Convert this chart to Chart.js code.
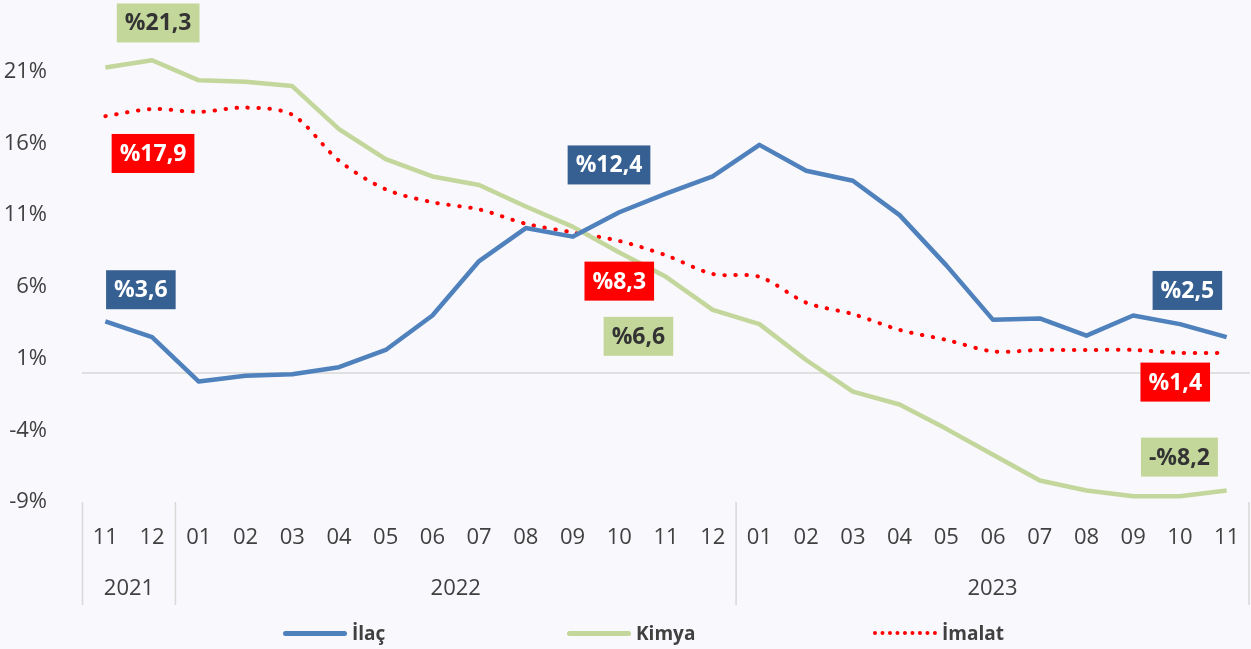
<!DOCTYPE html>
<html lang="tr">
<head>
<meta charset="utf-8">
<title>İlaç, Kimya ve İmalat</title>
<script src="https://cdn.jsdelivr.net/npm/chart.js@4.4.1/dist/chart.umd.min.js"></script>
<style>
    html, body { margin: 0; padding: 0; background: #f9f8fc; }
    #kapsayici { position: relative; width: 1251px; height: 649px; }
    #grafik { display: block; }
    .lejant { position: absolute; top: 620px; left: 0; width: 1251px; height: 26px;
              font: bold 19px "Open Sans", sans-serif; color: #404040; }
    .oge { position: absolute; top: 0; height: 26px; display: flex; align-items: center; }
    .ornek { width: 64px; height: 0; margin-right: 5px; }
</style>
</head>
<body>
<div id="kapsayici">
    <canvas id="grafik" width="1251" height="649"></canvas>
    <div class="lejant">
        <div class="oge" style="left:283px"><span class="ornek" style="border-top:5px solid #4f81bd;border-radius:3px"></span>İlaç</div>
        <div class="oge" style="left:567px"><span class="ornek" style="border-top:5px solid #c3d69b;border-radius:3px"></span>Kimya</div>
        <div class="oge" style="left:873px"><span class="ornek" style="border-top:4px dotted #ff0000"></span>İmalat</div>
    </div>
</div>
<script>
// Veriler (yıllık değişim, %)
const aylar = ['11', '12', '01', '02', '03', '04', '05', '06', '07', '08', '09', '10', '11', '12',
               '01', '02', '03', '04', '05', '06', '07', '08', '09', '10', '11'];
const yillar = ['2021', '2022', '2023'];
const yilBaslangic = [0, 2, 14]; // her yılın ilk ayının sırası

const ilac = [3.6, 2.5, -0.6, -0.2, -0.1, 0.4, 1.6, 4.0, 7.8, 10.1, 9.5, 11.2, 12.5, 13.7,
              15.9, 14.1, 13.4, 11.0, 7.5, 3.7, 3.8, 2.6, 4.0, 3.4, 2.5];
const kimya = [21.3, 21.8, 20.4, 20.3, 20.0, 17.0, 14.9, 13.7, 13.1, 11.6, 10.2, 8.4, 6.7, 4.4,
               3.4, 0.9, -1.3, -2.2, -3.9, -5.7, -7.5, -8.2, -8.6, -8.6, -8.2];
const imalat = [17.9, 18.4, 18.2, 18.5, 18.0, 14.8, 12.8, 11.9, 11.4, 10.4, 9.8, 9.2, 8.2, 6.9,
                6.7, 4.9, 4.1, 3.0, 2.3, 1.5, 1.6, 1.6, 1.6, 1.4, 1.4];

const yTikler = [-9, -4, 1, 6, 11, 16, 21];

// Kutulu etiketler (konum: ay sırası, değer)
const MAVI = '#376092', KIRMIZI = '#ff0000', YESIL = '#c4d79b';
const etiketler = [
    { metin: '%21,3', x: 1.13, y: 24.4, zemin: YESIL, renk: '#333333' },
    { metin: '%17,9', x: 1.02, y: 15.3, zemin: KIRMIZI, renk: '#ffffff' },
    { metin: '%3,6', x: 0.76, y: 5.8, zemin: MAVI, renk: '#ffffff' },
    { metin: '%12,4', x: 10.78, y: 14.5, zemin: MAVI, renk: '#ffffff' },
    { metin: '%8,3', x: 11.0, y: 6.4, zemin: KIRMIZI, renk: '#ffffff' },
    { metin: '%6,6', x: 11.41, y: 2.55, zemin: YESIL, renk: '#333333' },
    { metin: '%2,5', x: 23.16, y: 5.75, zemin: MAVI, renk: '#ffffff' },
    { metin: '%1,4', x: 22.9, y: -0.64, zemin: KIRMIZI, renk: '#ffffff' },
    { metin: '-%8,2', x: 22.99, y: -5.87, zemin: YESIL, renk: '#333333' }
];

const YAZI = '"Open Sans", sans-serif';

// Arka plan
const arkaPlan = {
    id: 'arkaPlan',
    beforeDraw(chart) {
        const ctx = chart.ctx;
        ctx.save();
        ctx.fillStyle = '#f9f8fc';
        ctx.fillRect(0, 0, chart.width, chart.height);
        ctx.restore();
    }
};

// Sıfır çizgisi, yıl ayraçları ve yıl yazıları
const eksenDuzeni = {
    id: 'eksenDuzeni',
    beforeDatasetsDraw(chart) {
        const { ctx, chartArea, scales: { x, y } } = chart;
        ctx.save();
        ctx.strokeStyle = '#d9d9d9';
        ctx.lineWidth = 1.5;

        const y0 = y.getPixelForValue(0);
        ctx.beginPath();
        ctx.moveTo(chartArea.left, y0);
        ctx.lineTo(chartArea.right, y0);
        ctx.stroke();

        const sinirlar = [chartArea.left + 0.5];
        yilBaslangic.slice(1).forEach(i => {
            sinirlar.push((x.getPixelForValue(i - 1) + x.getPixelForValue(i)) / 2);
        });
        sinirlar.push(chartArea.right - 1);
        sinirlar.forEach(px => {
            ctx.beginPath();
            ctx.moveTo(px, chartArea.bottom);
            ctx.lineTo(px, chartArea.bottom + 103);
            ctx.stroke();
        });

        ctx.fillStyle = '#404040';
        ctx.font = '22px ' + YAZI;
        ctx.textAlign = 'center';
        ctx.textBaseline = 'middle';
        yillar.forEach((yil, k) => {
            ctx.fillText(yil, (sinirlar[k] + sinirlar[k + 1]) / 2, chartArea.bottom + 87);
        });
        ctx.restore();
    }
};

// Değer kutuları
const degerKutulari = {
    id: 'degerKutulari',
    afterDatasetsDraw(chart) {
        const { ctx, scales: { x, y } } = chart;
        ctx.save();
        ctx.font = 'bold 23px ' + YAZI;
        ctx.textAlign = 'center';
        ctx.textBaseline = 'middle';
        etiketler.forEach(e => {
            const cx = x.getPixelForValue(e.x);
            const cy = y.getPixelForValue(e.y);
            const w = ctx.measureText(e.metin).width + 16;
            const h = 39;
            ctx.fillStyle = e.zemin;
            ctx.fillRect(cx - w / 2, cy - h / 2, w, h);
            ctx.fillStyle = e.renk;
            ctx.fillText(e.metin, cx, cy + 1);
        });
        ctx.restore();
    }
};

new Chart(document.getElementById('grafik'), {
    type: 'line',
    data: {
        labels: aylar,
        datasets: [
            {
                label: 'İlaç',
                data: ilac,
                borderColor: '#4f81bd',
                borderWidth: 4.5,
                pointRadius: 0,
                tension: 0,
                borderJoinStyle: 'round'
            },
            {
                label: 'Kimya',
                data: kimya,
                borderColor: '#c3d69b',
                borderWidth: 4.5,
                pointRadius: 0,
                tension: 0,
                borderJoinStyle: 'round'
            },
            {
                label: 'İmalat',
                data: imalat,
                borderColor: '#ff0000',
                borderWidth: 4,
                borderDash: [0.5, 10.5],
                borderCapStyle: 'round',
                pointRadius: 0,
                tension: 0.3
            }
        ]
    },
    options: {
        responsive: false,
        animation: false,
        layout: { autoPadding: false, padding: { left: 0, right: 1, top: 0, bottom: 0 } },
        plugins: {
            legend: { display: false },
            tooltip: { enabled: false }
        },
        scales: {
            x: {
                offset: true,
                grid: { display: false },
                border: { display: false },
                ticks: {
                    autoSkip: false,
                    maxRotation: 0,
                    padding: 15,
                    color: '#404040',
                    font: { family: YAZI, size: 22 }
                },
                afterFit(scale) {
                    scale.height = 147;
                    scale.paddingLeft = 0;
                    scale.paddingRight = 0;
                }
            },
            y: {
                min: -9,
                max: 26,
                grid: { display: false },
                border: { display: false },
                afterBuildTicks(scale) {
                    scale.ticks = yTikler.map(v => ({ value: v }));
                },
                ticks: {
                    padding: 27,
                    color: '#404040',
                    font: { family: YAZI, size: 22 },
                    callback: v => v + '%'
                },
                afterFit(scale) {
                    scale.width = 82;
                    scale.paddingTop = 0;
                    scale.paddingBottom = 0;
                }
            }
        }
    },
    plugins: [arkaPlan, eksenDuzeni, degerKutulari]
});
</script>
</body>
</html>
